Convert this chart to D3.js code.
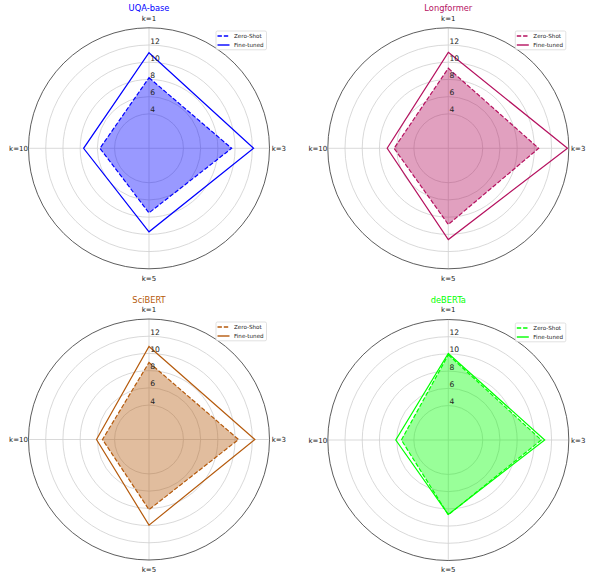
<!DOCTYPE html>
<html>
<head>
<meta charset="utf-8">
<script src="https://cdn.jsdelivr.net/npm/d3@7"></script>
<style>
  body { margin: 0; background: #fff; }
  svg { font-family: "DejaVu Sans", sans-serif; }
</style>
</head>
<body>
<div id="chart"></div>
<script>
// data
const categories = ["k=1", "k=3", "k=5", "k=10"];
const models = ["UQA-base", "Longformer", "SciBERT", "deBERTa"];
const colors = ["#0000ff", "#b5115f", "#b55a0c", "#00ff00"];
const zeroShot = [
  [8.2, 9.6, 7.5, 5.7],
  [9.3, 10.5, 8.85, 6.3],
  [8.95, 10.4, 8.15, 5.4],
  [9.9, 10.8, 8.7, 5.45]
];
const fineTuned = [
  [11.1, 12.15, 9.7, 7.6],
  [11.15, 13.85, 10.6, 7.1],
  [10.8, 12.3, 9.95, 6.1],
  [10.05, 11.2, 8.65, 6.1]
];
const rTicks = [4, 6, 8, 10, 12];
const seriesNames = ["Zero-Shot", "Fine-tuned"];

const W = 589, H = 574, R = 120.5;
const centers = [[149, 148.3], [448.3, 148.3], [149, 439.5], [448.3, 440]];

const svg = d3.select("#chart").append("svg")
  .attr("width", W)
  .attr("height", H);

const r = d3.scaleLinear().domain([0, 14]).range([0, R]);
const angle = d3.scaleBand().domain(categories).range([0, 2 * Math.PI]).align(0).paddingInner(0).paddingOuter(0);

const radar = d3.lineRadial()
  .angle((d, i) => angle(categories[i]))
  .radius(d => r(d))
  .curve(d3.curveLinearClosed);

models.forEach((name, m) => {
  const [cx, cy] = centers[m];
  const col = colors[m];
  const g = svg.append("g").attr("transform", "translate(" + cx + "," + cy + ")");

  // grid circles
  g.selectAll(".grid")
    .data(rTicks).enter().append("circle")
    .attr("r", d => r(d))
    .attr("fill", "none")
    .attr("stroke", "#cfcfcf")
    .attr("stroke-width", 0.8);

  // spokes
  g.selectAll(".spoke")
    .data(categories).enter().append("line")
    .attr("x1", 0).attr("y1", 0)
    .attr("x2", d => R * Math.sin(angle(d)))
    .attr("y2", d => -R * Math.cos(angle(d)))
    .attr("stroke", "#cfcfcf")
    .attr("stroke-width", 0.8);

  // outer spine
  g.append("circle")
    .attr("r", R)
    .attr("fill", "none")
    .attr("stroke", "#333")
    .attr("stroke-width", 0.8);

  // zero-shot filled + dashed
  g.append("path")
    .datum(zeroShot[m])
    .attr("d", radar)
    .attr("fill", col)
    .attr("fill-opacity", 0.4)
    .attr("stroke", col)
    .attr("stroke-width", 1.2)
    .attr("stroke-dasharray", "4.4,1.9");

  // fine-tuned solid
  g.append("path")
    .datum(fineTuned[m])
    .attr("d", radar)
    .attr("fill", "none")
    .attr("stroke", col)
    .attr("stroke-width", 1.2);

  // radial tick labels
  g.selectAll(".rlab")
    .data(rTicks).enter().append("text")
    .attr("x", 1.2)
    .attr("y", d => -r(d) - 1.5)
    .attr("font-size", "7.6px")
    .attr("fill", "#222")
    .text(d => d);

  // category labels
  g.selectAll(".clab")
    .data(categories).enter().append("text")
    .attr("x", d => {
      const a = angle(d);
      if (Math.abs(Math.sin(a)) < 0.5) return 0;
      return Math.sin(a) > 0 ? R + 2.2 : -R - 0.6;
    })
    .attr("y", d => {
      const a = angle(d);
      if (Math.abs(Math.cos(a)) < 0.5) return 2.5;
      return Math.cos(a) > 0 ? -R - 7.2 : R + 11.8;
    })
    .attr("text-anchor", d => {
      const a = angle(d);
      if (Math.abs(Math.sin(a)) < 0.5) return "middle";
      return Math.sin(a) > 0 ? "start" : "end";
    })
    .attr("font-size", "7px")
    .attr("fill", "#222")
    .text(d => d);

  // title
  g.append("text")
    .attr("x", 0)
    .attr("y", -R - 16.5)
    .attr("text-anchor", "middle")
    .attr("font-size", "8.3px")
    .attr("fill", col)
    .text(name);

  // legend
  const lg = g.append("g").attr("transform", "translate(67," + (Math.round(cy - 117.5) - cy) + ")");
  lg.append("rect")
    .attr("width", 50.5).attr("height", 18.8)
    .attr("rx", 1.5)
    .attr("fill", "#fff")
    .attr("fill-opacity", 0.8)
    .attr("stroke", "#ccc")
    .attr("stroke-width", 0.6);
  seriesNames.forEach((s, i) => {
    const yy = 5 + i * 9;
    lg.append("line")
      .attr("x1", 1.5).attr("x2", 13.5)
      .attr("y1", yy).attr("y2", yy)
      .attr("stroke", col)
      .attr("stroke-width", 1.4)
      .attr("stroke-dasharray", i === 0 ? "4.4,1.9" : null);
    lg.append("text")
      .attr("x", 18)
      .attr("y", yy + 2)
      .attr("font-size", "5.6px")
      .attr("fill", "#222")
      .text(s);
  });
});
</script>
</body>
</html>
